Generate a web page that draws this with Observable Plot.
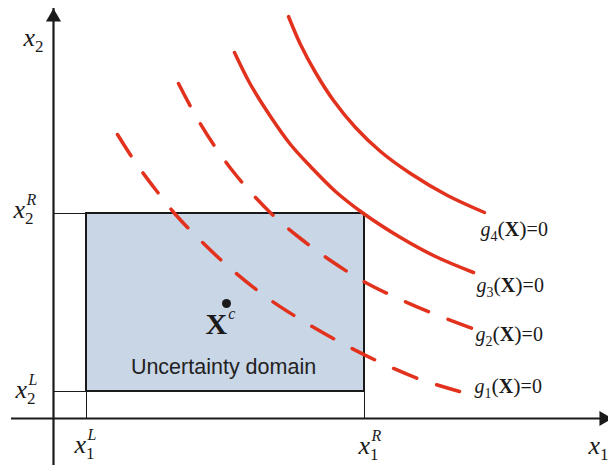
<!DOCTYPE html>
<html><head><meta charset="utf-8">
<script src="https://cdn.jsdelivr.net/npm/d3@7"></script>
<script src="https://cdn.jsdelivr.net/npm/@observablehq/plot@0.6"></script>
<style>
html,body{margin:0;padding:0;background:#fff;}
#chart svg{display:block;}
</style></head><body><div id="chart"></div>
<script>
// ---- data (units: origin at axes crossing, y up) ----
const curveNames = ["g1", "g2", "g3", "g4"];
const curveDashed = [true, true, false, false];
const g1X = [64, 82, 102, 122, 147, 177, 212, 247, 287, 327, 367, 406];
const g1Y = [284, 256, 229, 204, 178, 150, 122, 99, 76, 56, 39, 27];
const g2X = [125, 142, 162, 182, 202, 222, 247, 277, 312, 347, 382, 419];
const g2Y = [335, 303, 271, 244, 221, 201, 180, 158, 136, 119, 104, 90];
const g3X = [181, 197, 217, 237, 257, 282, 310, 347, 382, 420];
const g3Y = [366, 334, 302, 274, 252, 227, 205, 181, 162, 146];
const g4X = [235, 247, 262, 280, 302, 327, 357, 394, 431];
const g4Y = [402, 374, 346, 318, 291, 267, 245, 223, 206];

const rectX = [33, 311];
const rectY = [27, 205];
const xAxisRange = [-42, 555];
const yAxisRange = [-47, 410];

const axisLabelBase = ["x", "x", "x", "x", "x", "x"];
const axisLabelSub = ["2", "2", "2", "1", "1", "1"];
const axisLabelSup = ["", "R", "L", "L", "R", ""];
const axisLabelX = [-30, -40, -38, 21, 305, 535];
const axisLabelY = [373, 201, 21, -34, -35, -35];

const gLabelIndex = ["4", "3", "2", "1"];
const gLabelX = [427, 423, 422, 421];
const gLabelY = [183, 127, 78, 26];

const centerPoint = [173, 115];
const centerLabel = {base: "X", sup: "c", x: 152, y: 85};
const domainLabel = {text: "Uncertainty domain", x: 170, y: 45};

// ---- build tables ----
const curveXs = [g1X, g2X, g3X, g4X];
const curveYs = [g1Y, g2Y, g3Y, g4Y];
const curveRows = curveNames.flatMap((name, i) =>
  curveXs[i].map((x, j) => ({name, x, y: curveYs[i][j], dashed: curveDashed[i]})));
const axisLabels = axisLabelBase.map((b, i) => ({
  base: b, sub: axisLabelSub[i], sup: axisLabelSup[i], x: axisLabelX[i], y: axisLabelY[i]}));
const gLabels = gLabelIndex.map((k, i) => ({k, x: gLabelX[i], y: gLabelY[i]}));

const RED = "#e2311d";
const INK = "#1a1a1a";
const serif = "'Liberation Serif', 'Times New Roman', serif";

const svg = Plot.plot({
  width: 608, height: 465, margin: 0,
  style: {background: "#fff", overflow: "hidden"},
  x: {domain: [-53, 555], axis: null},
  y: {domain: [-47, 418], axis: null},
  marks: [
    // thin guide lines
    Plot.ruleY([rectY[1], rectY[0]], {x1: 0, x2: rectX[0], stroke: INK, strokeWidth: 1}),
    Plot.ruleX([rectX[0], rectX[1]], {y1: 0, y2: rectY[0], stroke: INK, strokeWidth: 1}),
    // axes
    Plot.ruleY([0], {x1: xAxisRange[0], x2: xAxisRange[1], stroke: INK, strokeWidth: 2.2}),
    Plot.ruleX([0], {y1: yAxisRange[0], y2: yAxisRange[1], stroke: INK, strokeWidth: 2.2}),
    Plot.dot([{x: 0, y: yAxisRange[1]}], {x: "x", y: "y", symbol: "triangle", r: 5.6, fill: INK, dy: 8.7}),
    Plot.dot([{x: xAxisRange[1] + 4, y: 0}], {x: "x", y: "y", symbol: "triangle", r: 5.6, fill: INK, rotate: 90, dx: -8.7}),
    // domain rectangle
    Plot.rect([{x1: rectX[0], x2: rectX[1], y1: rectY[0], y2: rectY[1]}],
      {x1: "x1", x2: "x2", y1: "y1", y2: "y2", fill: "#c9d6e6", stroke: INK, strokeWidth: 2}),
    // limit-state curves
    Plot.line(curveRows.filter(d => d.dashed), {x: "x", y: "y", z: "name", stroke: RED, strokeWidth: 3.5,
      strokeDasharray: "25,21", strokeLinecap: "round", curve: "catmull-rom"}),
    Plot.line(curveRows.filter(d => !d.dashed), {x: "x", y: "y", z: "name", stroke: RED, strokeWidth: 3.5,
      strokeLinecap: "round", curve: "catmull-rom"}),
    // center point
    Plot.dot([{x: centerPoint[0], y: centerPoint[1]}], {x: "x", y: "y", r: 4.5, fill: INK}),
    // labels
    Plot.text(axisLabels, {x: "x", y: "y", text: d => d.base + d.sub + d.sup, textAnchor: "start",
      lineAnchor: "bottom", fontFamily: serif, fontSize: 26, fontStyle: "italic", fill: INK}),
    Plot.text(gLabels, {x: "x", y: "y", text: d => "g" + d.k + "(X)=0", textAnchor: "start",
      lineAnchor: "bottom", fontFamily: serif, fontSize: 20, fill: INK}),
    Plot.text([centerLabel], {x: "x", y: "y", text: d => d.base + d.sup, textAnchor: "start",
      lineAnchor: "bottom", fontFamily: serif, fontSize: 30, fontWeight: "bold", fill: INK}),
    Plot.text([domainLabel], {x: "x", y: "y", text: "text", textAnchor: "middle",
      lineAnchor: "bottom", fontFamily: "'Liberation Sans', Arial, sans-serif", fontSize: 21.5, fill: "#222"})
  ]
});

// ---- rich text (sub/superscripts) ----
const rich = new Map();
axisLabels.forEach(d => {
  const parts = [{t: d.base}, {t: d.sub, size: 17, style: "normal", dy: 6}];
  if (d.sup) parts.push({t: d.sup, size: 16, style: "italic", dx: -7, dy: -19});
  rich.set(d.base + d.sub + d.sup, parts);
});
gLabels.forEach(d => {
  rich.set("g" + d.k + "(X)=0", [
    {t: "g", style: "italic"},
    {t: d.k, size: 14, dy: 5},
    {t: "(", dy: -5, size: 22},
    {t: "X", weight: "bold"},
    {t: ")", size: 22},
    {t: "=0"}
  ]);
});
rich.set(centerLabel.base + centerLabel.sup, [
  {t: centerLabel.base},
  {t: centerLabel.sup, size: 16, style: "italic", weight: "normal", dx: 1, dy: -15}
]);
d3.select(svg).selectAll("text").each(function() {
  const parts = rich.get(this.textContent);
  if (!parts) return;
  this.textContent = "";
  for (const p of parts) {
    const ts = document.createElementNS("http://www.w3.org/2000/svg", "tspan");
    ts.textContent = p.t;
    if (p.size) ts.setAttribute("font-size", p.size);
    if (p.style) ts.setAttribute("font-style", p.style);
    if (p.weight) ts.setAttribute("font-weight", p.weight);
    if (p.dx) ts.setAttribute("dx", p.dx);
    if (p.dy) ts.setAttribute("dy", p.dy);
    this.appendChild(ts);
  }
});
document.getElementById("chart").appendChild(svg);
</script>
</body></html>
